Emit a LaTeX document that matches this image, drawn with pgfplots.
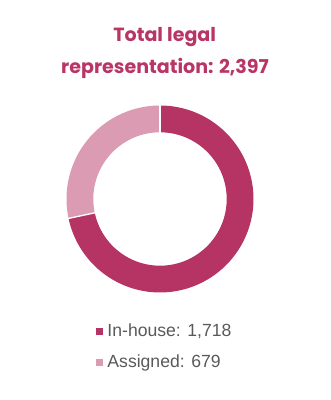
\documentclass[border=0pt]{standalone}
\usepackage{pgfplots}
\pgfplotsset{compat=1.18}
\usepgfplotslibrary{fillbetween}
\usepackage{fontspec}
\setmainfont{Liberation Sans}
\newfontfamily\titlefont{Poppins}
\definecolor{c1}{HTML}{B53464}
\definecolor{c2}{HTML}{DB9BB3}
\definecolor{tc}{HTML}{B83565}
\definecolor{lc}{HTML}{595959}
\begin{document}
\begin{tikzpicture}
\pgfmathsetmacro{\inh}{1718}
\pgfmathsetmacro{\asg}{679}
\pgfmathsetmacro{\frac}{\asg/(\inh+\asg)}
\pgfmathsetmacro{\bnd}{90+360*\frac}
\pgfmathsetmacro{\bm}{\bnd-360}
\begin{axis}[width=247.5pt,height=300pt,scale only axis,
  xmin=0,xmax=330,ymin=0,ymax=400,hide axis,clip=false,
  legend style={draw=none, fill=none, at={(axis cs:96,79.5)}, anchor=north west,
    font=\fontsize{13.2pt}{16pt}\selectfont, text=lc, row sep=8.5pt, inner sep=0pt},
  legend cell align=left]
\path (axis cs:0,0) rectangle (axis cs:330,400);
\addplot[name path=o1, draw=none, domain=\bm:90, samples=150, forget plot] ({160+93.5*cos(x)},{201+93.5*sin(x)});
\addplot[name path=i1, draw=none, domain=\bm:90, samples=150, forget plot] ({160+66.7*cos(x)},{201+66.7*sin(x)});
\addplot[c1, forget plot] fill between[of=o1 and i1];
\addplot[name path=o2, draw=none, domain=90:\bnd, samples=80, forget plot] ({160+93.5*cos(x)},{201+93.5*sin(x)});
\addplot[name path=i2, draw=none, domain=90:\bnd, samples=80, forget plot] ({160+66.7*cos(x)},{201+66.7*sin(x)});
\addplot[c2, forget plot] fill between[of=o2 and i2];
\addplot[white, line width=1pt, domain=66:94.2, samples=2, forget plot] ({160+x*cos(90)},{201+x*sin(90)});
\addplot[white, line width=1pt, domain=66:94.2, samples=2, forget plot] ({160+x*cos(\bnd)},{201+x*sin(\bnd)});
\addlegendimage{legend image code/.code={\fill[c1] (0pt,-2.25pt) rectangle (4.5pt,2.25pt); \path (6pt,0pt);}}
\addlegendentry{In-house: 1,718}
\addlegendimage{legend image code/.code={\fill[c2] (0pt,-2.25pt) rectangle (4.5pt,2.25pt); \path (6pt,0pt);}}
\addlegendentry{Assigned: 679}
\node[anchor=base, text=tc, font=\titlefont\bfseries\fontsize{14.3pt}{16pt}\selectfont] at (axis cs:164.7,358.3) {Total legal};
\node[anchor=base, text=tc, font=\titlefont\bfseries\fontsize{14.3pt}{16pt}\selectfont] at (axis cs:165,326.7) {representation: 2,397};
\end{axis}
\end{tikzpicture}
\end{document}
